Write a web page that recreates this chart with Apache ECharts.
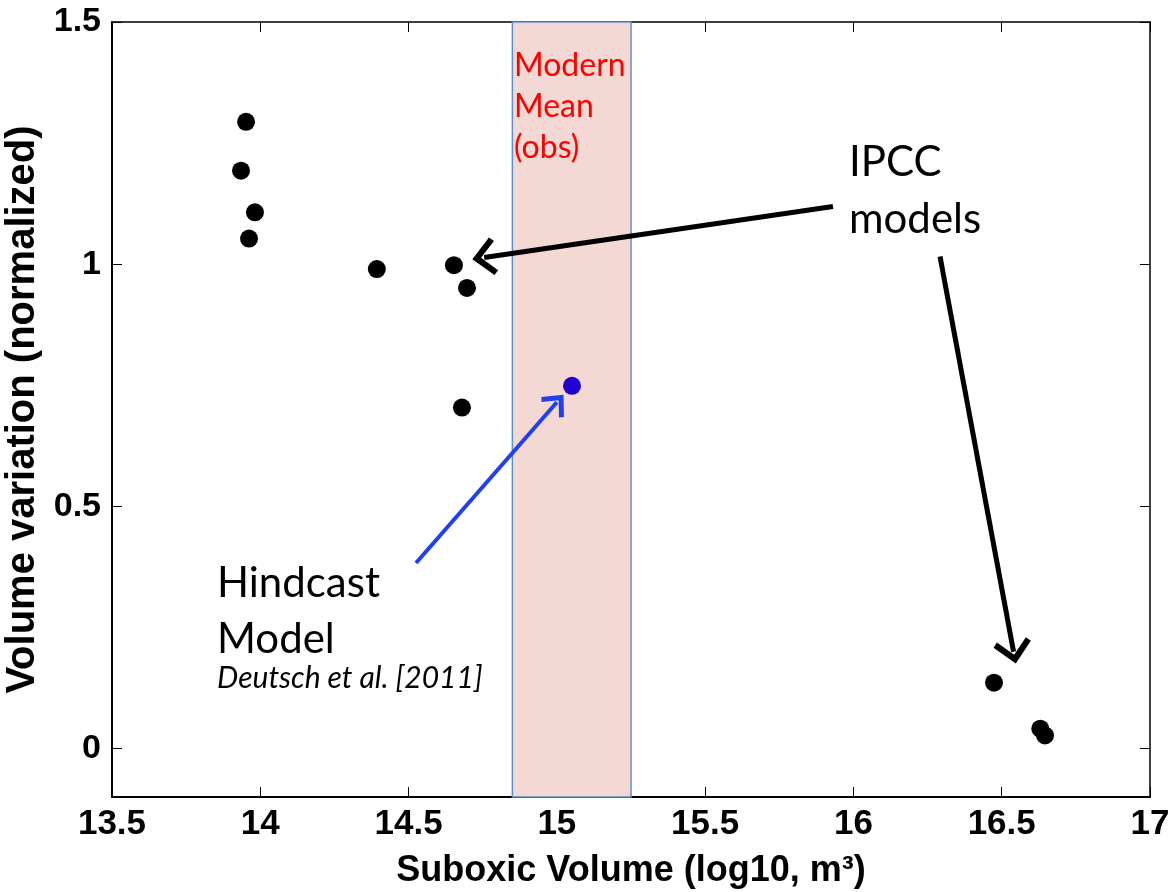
<!DOCTYPE html>
<html>
<head>
<meta charset="utf-8">
<script src="https://cdn.jsdelivr.net/npm/echarts@6/dist/echarts.min.js"></script>
<style>
  html, body { margin: 0; padding: 0; background: #fff; }
</style>
</head>
<body>
<div id="chart" style="width: 1173px; height: 892px"></div>
<script>
// IPCC model points (suboxic volume log10 m3, normalized volume variation)
const ipccX = [13.952, 13.935, 13.982, 13.962, 14.393, 14.653, 14.697, 14.68, 16.474, 16.63, 16.646];
const ipccY = [1.294, 1.193, 1.107, 1.053, 0.99, 0.998, 0.951, 0.704, 0.136, 0.041, 0.027];
// hindcast model
const hindX = [15.051];
const hindY = [0.749];
// modern mean (obs) range
const bandRange = [14.85, 15.25];
const yTicks = [0, 0.5, 1, 1.5];
// annotation arrows [from, to] in data units
const ipccArrows = [
  [[15.931, 1.119], [14.755, 1.014]],
  [[16.292, 1.016], [16.54, 0.2]],
];
const hindArrow = [[14.525, 0.383], [15.0, 0.715]];

const chart = echarts.init(document.getElementById("chart"));

// open arrow head
const chevron = "path://M0,0 L12,12 L9.3,14.7 L0,5.4 L-9.3,14.7 L-12,12 Z";
const annoFont = "Lato, 'Open Sans', sans-serif";
const axisFont = { fontFamily: "Liberation Sans", fontWeight: "bold", color: "#000" };

function arrowData(pairs) {
  return pairs.map((p) => [{ coord: p[0] }, { coord: p[1] }]);
}

chart.setOption({
  animation: false,
  grid: { left: 112, right: 23, top: 22, bottom: 95, containLabel: false, outerBoundsMode: "none" },
  xAxis: [
    {
      type: "value",
      min: 13.5,
      max: 17,
      interval: 0.5,
      position: "bottom",
      name: "Suboxic Volume (log10, m\u00b3)",
      nameLocation: "middle",
      nameGap: 56,
      nameTextStyle: { ...axisFont, fontSize: 36 },
      axisLine: { show: true, onZero: false, lineStyle: { color: "#000", width: 2 } },
      axisTick: { inside: true, length: 10, lineStyle: { color: "#000", width: 1 } },
      axisLabel: { ...axisFont, fontSize: 35, margin: 10 },
      splitLine: { show: false },
    },
    {
      type: "value",
      min: 13.5,
      max: 17,
      interval: 0.5,
      position: "top",
      axisLine: { show: true, onZero: false, lineStyle: { color: "#000", width: 1.5 } },
      axisTick: { inside: true, length: 10, lineStyle: { color: "#000", width: 1 } },
      axisLabel: { show: false },
      splitLine: { show: false },
    },
  ],
  yAxis: [
    {
      type: "value",
      min: -0.1,
      max: 1.5,
      position: "left",
      name: "Volume variation (normalized)",
      nameLocation: "middle",
      nameGap: 59,
      nameTextStyle: { ...axisFont, fontSize: 40 },
      axisLine: { show: true, onZero: false, lineStyle: { color: "#000", width: 2 } },
      axisTick: { inside: true, length: 10, customValues: yTicks, lineStyle: { color: "#000", width: 1 } },
      axisLabel: { ...axisFont, customValues: yTicks, fontSize: 34, margin: 11 },
      splitLine: { show: false },
    },
    {
      type: "value",
      min: -0.1,
      max: 1.5,
      position: "right",
      axisLine: { show: true, onZero: false, lineStyle: { color: "#000", width: 1.5 } },
      axisTick: { inside: true, length: 10, customValues: yTicks, lineStyle: { color: "#000", width: 1 } },
      axisLabel: { show: false },
      splitLine: { show: false },
    },
  ],
  series: [
    {
      name: "band",
      type: "scatter",
      data: [],
      z: 1,
      markArea: {
        silent: true,
        itemStyle: { color: "#f4d8d3", borderColor: "#5f8fcc", borderWidth: 1.5 },
        data: [[{ xAxis: bandRange[0], yAxis: -0.1 }, { xAxis: bandRange[1], yAxis: 1.5 }]],
      },
    },
    {
      name: "IPCC arrows",
      type: "scatter",
      data: [],
      z: 3,
      markLine: {
        silent: true,
        symbol: ["none", chevron],
        symbolSize: [38, 24],
        label: { show: false },
        lineStyle: { type: "solid", color: "#000", width: 5 },
        itemStyle: { color: "#000" },
        data: arrowData(ipccArrows),
      },
    },
    {
      name: "Hindcast arrow",
      type: "scatter",
      data: [],
      z: 3,
      markLine: {
        silent: true,
        symbol: ["none", chevron],
        symbolSize: [30, 20],
        label: { show: false },
        lineStyle: { type: "solid", color: "#1f3ff0", width: 4 },
        itemStyle: { color: "#1f3ff0" },
        data: [[{ coord: hindArrow[0] }, { coord: hindArrow[1] }]],
      },
    },
    {
      name: "IPCC models",
      type: "scatter",
      z: 5,
      symbolSize: 18,
      itemStyle: { color: "#000", opacity: 1 },
      data: ipccX.map((x, i) => [x, ipccY[i]]),
    },
    {
      name: "Hindcast Model",
      type: "scatter",
      z: 5,
      symbolSize: 18,
      itemStyle: { color: "#2000d0", opacity: 1 },
      data: hindX.map((x, i) => [x, hindY[i]]),
    },
  ],
  graphic: [
    {
      type: "text",
      left: 514,
      top: 45,
      z: 10,
      style: { text: "Modern\nMean\n(obs)", fill: "#ff0000", font: "32px " + annoFont, lineHeight: 41 },
    },
    {
      type: "text",
      left: 849,
      top: 134,
      z: 10,
      style: { text: "IPCC\nmodels", fill: "#000", font: "42px " + annoFont, lineHeight: 57 },
    },
    {
      type: "text",
      left: 217,
      top: 555,
      z: 10,
      style: { text: "Hindcast\nModel", fill: "#000", font: "42px " + annoFont, lineHeight: 56 },
    },
    {
      type: "text",
      left: 217,
      top: 663,
      z: 10,
      style: { text: "Deutsch et al. [2011]", fill: "#000", font: "italic 30px " + annoFont },
    },
  ],
});
</script>
</body>
</html>
